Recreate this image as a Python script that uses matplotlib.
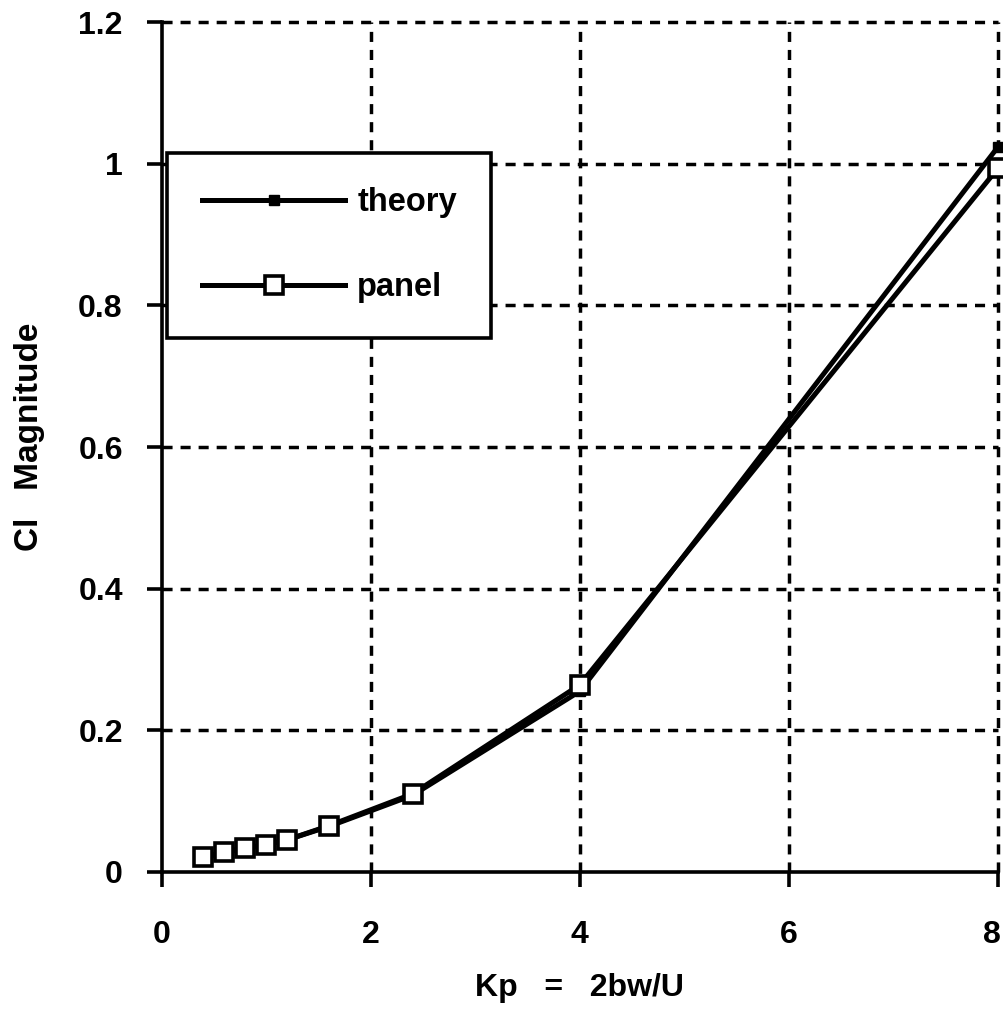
import matplotlib
matplotlib.use('Agg')
import matplotlib.pyplot as plt
import matplotlib.transforms as mtransforms

plt.rcParams['font.family'] = ['Liberation Sans', 'DejaVu Sans']
plt.rcParams['font.weight'] = 'bold'

# Dados
kp = [0.4, 0.6, 0.8, 1.0, 1.2, 1.6, 2.4, 4.0, 8.0]
panel = [0.021, 0.028, 0.034, 0.038, 0.045, 0.065, 0.110, 0.264, 0.994]
theory = [0.020, 0.027, 0.033, 0.038, 0.045, 0.064, 0.108, 0.255, 1.024]

x_ticks = [0, 2, 4, 6, 8]
x_tick_labels = ['0', '2', '4', '6', '8']
y_ticks = [0, 0.2, 0.4, 0.6, 0.8, 1.0, 1.2]
y_tick_labels = ['0', '0.2', '0.4', '0.6', '0.8', '1', '1.2']

fig = plt.figure(figsize=(10.04, 10.16), dpi=100)
ax = fig.add_axes([0.161, 0.142, 0.833, 0.836])

dash = (0, (2.9, 2.3))
ax.set_xlim(0, 8)
ax.set_ylim(0, 1.2)
ax.set_xticks(x_ticks)
ax.set_xticklabels(x_tick_labels)
ax.set_yticks(y_ticks)
ax.set_yticklabels(y_tick_labels)

# grade tracejada (inclui bordas superior e direita)
for xv in x_ticks[1:]:
    ax.axvline(xv, color='black', lw=2.5, linestyle=dash, zorder=1, clip_on=False)
for yv in y_ticks[1:]:
    ax.axhline(yv, color='black', lw=2.5, linestyle=dash, zorder=1, clip_on=False)

ax.spines['top'].set_visible(False)
ax.spines['right'].set_visible(False)
ax.spines['left'].set_linewidth(2.6)
ax.spines['bottom'].set_linewidth(2.6)
ax.tick_params(direction='out', length=11, width=2.6, labelsize=23)
ax.tick_params(axis='x', pad=24)
ax.tick_params(axis='y', pad=17)

# último rótulo do eixo x fica colado na borda: desloca um pouco
last = ax.get_xticklabels()[-1]
last.set_transform(last.get_transform() +
                   mtransforms.ScaledTranslation(-6 / 100, 0, fig.dpi_scale_trans))

ax.plot(kp, theory, color='black', lw=3.6, marker='s', markersize=7.5,
        markerfacecolor='black', markeredgecolor='black', label='theory',
        zorder=3, clip_on=False)
ax.plot(kp, panel, color='black', lw=3.6, marker='s', markersize=12.5,
        markerfacecolor='white', markeredgecolor='black', markeredgewidth=2.6,
        label='panel', zorder=4, clip_on=False)

leg = ax.legend(loc='upper left', bbox_to_anchor=(0.007, 0.846), fontsize=23.5,
                handlelength=4.4, labelspacing=1.65, borderpad=1.05,
                handletextpad=0.36, borderaxespad=0, markerscale=1.0,
                fancybox=False, framealpha=1, edgecolor='black')
leg.get_frame().set_linewidth(2.6)
leg.set_zorder(5)

ax.set_xlabel('Kp   =   2bw/U', fontsize=23, fontweight='bold')
ax.xaxis.set_label_coords(0.5, -0.119)
ax.set_ylabel('Cl   Magnitude', fontsize=24, fontweight='bold')
ax.yaxis.set_label_coords(-0.14, 0.512)

fig.savefig('out.png', dpi=100, facecolor='white')
